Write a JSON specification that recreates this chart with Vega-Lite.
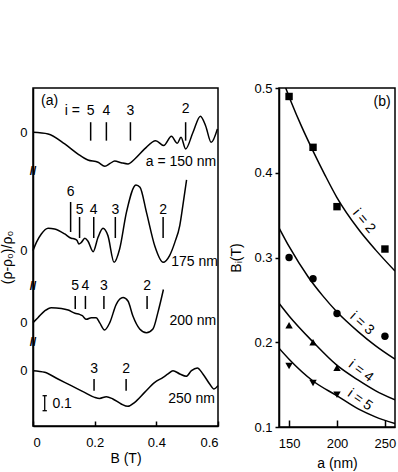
{
  "$schema": "https://vega.github.io/schema/vega-lite/v6.json",
  "padding": {"left": 0, "top": 81, "right": 0, "bottom": 0},
  "background": "white",
  "spacing": 61,
  "bounds": "flush",
  "config": {
    "font": "Liberation Sans",
    "view": {"stroke": "black", "strokeWidth": 1.5},
    "axis": {"labelFont": "Liberation Sans", "titleFont": "Liberation Sans", "labelFontSize": 13, "titleFontSize": 14, "titleFontWeight": "normal", "labelColor": "black", "titleColor": "black", "domainColor": "black", "domainWidth": 1.5, "tickColor": "black", "tickWidth": 1.5, "grid": false},
    "text": {"font": "Liberation Sans", "fontSize": 14, "color": "black"}
  },
  "datasets": {
    "curves": [
      {"s": "150", "B": 0, "y": 1.958}, {"s": "150", "B": 0.049, "y": 1.947}, {"s": "150", "B": 0.103, "y": 1.88}, {"s": "150", "B": 0.146, "y": 1.813}, {"s": "150", "B": 0.178, "y": 1.773}, {"s": "150", "B": 0.211, "y": 1.758}, {"s": "150", "B": 0.233, "y": 1.731}, {"s": "150", "B": 0.25, "y": 1.75}, {"s": "150", "B": 0.265, "y": 1.766}, {"s": "150", "B": 0.286, "y": 1.755}, {"s": "150", "B": 0.308, "y": 1.747}, {"s": "150", "B": 0.33, "y": 1.78}, {"s": "150", "B": 0.362, "y": 1.847}, {"s": "150", "B": 0.398, "y": 1.902}, {"s": "150", "B": 0.424, "y": 1.869}, {"s": "150", "B": 0.449, "y": 1.931}, {"s": "150", "B": 0.468, "y": 1.885}, {"s": "150", "B": 0.48, "y": 1.925}, {"s": "150", "B": 0.495, "y": 1.847}, {"s": "150", "B": 0.519, "y": 1.958}, {"s": "150", "B": 0.543, "y": 2.065}, {"s": "150", "B": 0.56, "y": 2.0}, {"s": "150", "B": 0.578, "y": 1.891}, {"s": "150", "B": 0.598, "y": 1.98},
      {"s": "175", "B": 0, "y": 1.169}, {"s": "175", "B": 0.011, "y": 1.224}, {"s": "175", "B": 0.027, "y": 1.28}, {"s": "175", "B": 0.049, "y": 1.318}, {"s": "175", "B": 0.07, "y": 1.313}, {"s": "175", "B": 0.103, "y": 1.28}, {"s": "175", "B": 0.124, "y": 1.251}, {"s": "175", "B": 0.135, "y": 1.247}, {"s": "175", "B": 0.143, "y": 1.236}, {"s": "175", "B": 0.149, "y": 1.213}, {"s": "175", "B": 0.157, "y": 1.224}, {"s": "175", "B": 0.168, "y": 1.251}, {"s": "175", "B": 0.178, "y": 1.233}, {"s": "175", "B": 0.195, "y": 1.162}, {"s": "175", "B": 0.211, "y": 1.258}, {"s": "175", "B": 0.227, "y": 1.318}, {"s": "175", "B": 0.243, "y": 1.269}, {"s": "175", "B": 0.263, "y": 1.091}, {"s": "175", "B": 0.281, "y": 1.18}, {"s": "175", "B": 0.303, "y": 1.424}, {"s": "175", "B": 0.334, "y": 1.607}, {"s": "175", "B": 0.347, "y": 1.591}, {"s": "175", "B": 0.368, "y": 1.424}, {"s": "175", "B": 0.395, "y": 1.2}, {"s": "175", "B": 0.422, "y": 1.091}, {"s": "175", "B": 0.443, "y": 1.136}, {"s": "175", "B": 0.46, "y": 1.224}, {"s": "175", "B": 0.476, "y": 1.336}, {"s": "175", "B": 0.486, "y": 1.469}, {"s": "175", "B": 0.498, "y": 1.64},
      {"s": "200", "B": 0, "y": 0.689}, {"s": "200", "B": 0.016, "y": 0.722}, {"s": "200", "B": 0.038, "y": 0.767}, {"s": "200", "B": 0.059, "y": 0.789}, {"s": "200", "B": 0.092, "y": 0.784}, {"s": "200", "B": 0.114, "y": 0.773}, {"s": "200", "B": 0.136, "y": 0.751}, {"s": "200", "B": 0.151, "y": 0.744}, {"s": "200", "B": 0.16, "y": 0.735}, {"s": "200", "B": 0.173, "y": 0.711}, {"s": "200", "B": 0.189, "y": 0.722}, {"s": "200", "B": 0.205, "y": 0.722}, {"s": "200", "B": 0.216, "y": 0.689}, {"s": "200", "B": 0.232, "y": 0.64}, {"s": "200", "B": 0.249, "y": 0.689}, {"s": "200", "B": 0.27, "y": 0.811}, {"s": "200", "B": 0.292, "y": 0.856}, {"s": "200", "B": 0.308, "y": 0.833}, {"s": "200", "B": 0.324, "y": 0.733}, {"s": "200", "B": 0.346, "y": 0.647}, {"s": "200", "B": 0.368, "y": 0.622}, {"s": "200", "B": 0.389, "y": 0.647}, {"s": "200", "B": 0.405, "y": 0.756}, {"s": "200", "B": 0.423, "y": 0.91},
      {"s": "250", "B": 0, "y": 0.369}, {"s": "250", "B": 0.038, "y": 0.358}, {"s": "250", "B": 0.081, "y": 0.313}, {"s": "250", "B": 0.124, "y": 0.269}, {"s": "250", "B": 0.167, "y": 0.224}, {"s": "250", "B": 0.2, "y": 0.191}, {"s": "250", "B": 0.216, "y": 0.184}, {"s": "250", "B": 0.238, "y": 0.195}, {"s": "250", "B": 0.259, "y": 0.18}, {"s": "250", "B": 0.286, "y": 0.147}, {"s": "250", "B": 0.308, "y": 0.131}, {"s": "250", "B": 0.33, "y": 0.158}, {"s": "250", "B": 0.362, "y": 0.224}, {"s": "250", "B": 0.395, "y": 0.291}, {"s": "250", "B": 0.422, "y": 0.324}, {"s": "250", "B": 0.438, "y": 0.347}, {"s": "250", "B": 0.454, "y": 0.369}, {"s": "250", "B": 0.476, "y": 0.347}, {"s": "250", "B": 0.497, "y": 0.331}, {"s": "250", "B": 0.514, "y": 0.369}, {"s": "250", "B": 0.533, "y": 0.387}, {"s": "250", "B": 0.551, "y": 0.347}, {"s": "250", "B": 0.573, "y": 0.28}, {"s": "250", "B": 0.587, "y": 0.247}, {"s": "250", "B": 0.6, "y": 0.269}
    ],
    "ticks": [
      {"B": 0.187, "y1": 1.902, "y2": 2.025}, {"B": 0.238, "y1": 1.902, "y2": 2.025}, {"B": 0.316, "y1": 1.902, "y2": 2.025}, {"B": 0.495, "y1": 1.902, "y2": 2.025},
      {"B": 0.122, "y1": 1.293, "y2": 1.493}, {"B": 0.151, "y1": 1.253, "y2": 1.393}, {"B": 0.197, "y1": 1.253, "y2": 1.393}, {"B": 0.267, "y1": 1.253, "y2": 1.393}, {"B": 0.422, "y1": 1.253, "y2": 1.393},
      {"B": 0.137, "y1": 0.78, "y2": 0.867}, {"B": 0.17, "y1": 0.78, "y2": 0.867}, {"B": 0.23, "y1": 0.78, "y2": 0.867}, {"B": 0.37, "y1": 0.78, "y2": 0.867},
      {"B": 0.198, "y1": 0.235, "y2": 0.313}, {"B": 0.302, "y1": 0.235, "y2": 0.313}
    ],
    "digits": [
      {"B": 0.187, "y": 2.1, "t": "5"}, {"B": 0.238, "y": 2.1, "t": "4"}, {"B": 0.316, "y": 2.1, "t": "3"}, {"B": 0.495, "y": 2.11, "t": "2"},
      {"B": 0.122, "y": 1.56, "t": "6"}, {"B": 0.151, "y": 1.443, "t": "5"}, {"B": 0.197, "y": 1.443, "t": "4"}, {"B": 0.267, "y": 1.443, "t": "3"}, {"B": 0.422, "y": 1.443, "t": "2"},
      {"B": 0.137, "y": 0.933, "t": "5"}, {"B": 0.17, "y": 0.933, "t": "4"}, {"B": 0.23, "y": 0.933, "t": "3"}, {"B": 0.37, "y": 0.933, "t": "2"},
      {"B": 0.198, "y": 0.38, "t": "3"}, {"B": 0.302, "y": 0.38, "t": "2"}
    ],
    "names": [
      {"B": 0.594, "y": 1.76, "t": "a = 150 nm"}, {"B": 0.6, "y": 1.093, "t": "175 nm"}, {"B": 0.594, "y": 0.7, "t": "200 nm"}, {"B": 0.59, "y": 0.18, "t": "250 nm"}
    ],
    "breaks": [{"B": 0, "y": 1.7}, {"B": 0, "y": 0.933}, {"B": 0, "y": 0.56}],
    "points": [
      {"a": 150, "Bi": 0.49, "i": 2}, {"a": 175, "Bi": 0.43, "i": 2}, {"a": 200, "Bi": 0.36, "i": 2}, {"a": 250, "Bi": 0.31, "i": 2},
      {"a": 150, "Bi": 0.3, "i": 3}, {"a": 175, "Bi": 0.275, "i": 3}, {"a": 200, "Bi": 0.234, "i": 3}, {"a": 250, "Bi": 0.207, "i": 3},
      {"a": 150, "Bi": 0.22, "i": 4}, {"a": 175, "Bi": 0.2, "i": 4}, {"a": 200, "Bi": 0.17, "i": 4},
      {"a": 150, "Bi": 0.172, "i": 5}, {"a": 175, "Bi": 0.152, "i": 5}, {"a": 200, "Bi": 0.138, "i": 5}
    ],
    "fits": [
      {"a": 146.5, "Bi": 0.5, "i": 2}, {"a": 152.4, "Bi": 0.483, "i": 2}, {"a": 162.9, "Bi": 0.455, "i": 2}, {"a": 175.3, "Bi": 0.425, "i": 2}, {"a": 187.6, "Bi": 0.397, "i": 2}, {"a": 199.8, "Bi": 0.371, "i": 2}, {"a": 222.6, "Bi": 0.333, "i": 2}, {"a": 240.2, "Bi": 0.309, "i": 2}, {"a": 260.5, "Bi": 0.284, "i": 2},
      {"a": 139.5, "Bi": 0.335, "i": 3}, {"a": 150, "Bi": 0.313, "i": 3}, {"a": 170, "Bi": 0.277, "i": 3}, {"a": 185, "Bi": 0.255, "i": 3}, {"a": 199.8, "Bi": 0.236, "i": 3}, {"a": 222.6, "Bi": 0.212, "i": 3}, {"a": 240, "Bi": 0.196, "i": 3}, {"a": 260.5, "Bi": 0.18, "i": 3},
      {"a": 139.5, "Bi": 0.246, "i": 4}, {"a": 150, "Bi": 0.231, "i": 4}, {"a": 175.3, "Bi": 0.2, "i": 4}, {"a": 199.8, "Bi": 0.173, "i": 4}, {"a": 222.6, "Bi": 0.155, "i": 4}, {"a": 240, "Bi": 0.143, "i": 4}, {"a": 260.5, "Bi": 0.132, "i": 4},
      {"a": 139.5, "Bi": 0.193, "i": 5}, {"a": 150, "Bi": 0.18, "i": 5}, {"a": 175.3, "Bi": 0.154, "i": 5}, {"a": 199.8, "Bi": 0.137, "i": 5}, {"a": 222.6, "Bi": 0.121, "i": 5}, {"a": 240, "Bi": 0.112, "i": 5}, {"a": 260.5, "Bi": 0.104, "i": 5}
    ],
    "flabels": [
      {"a": 228, "Bi": 0.343, "t": "i = 2", "ang": 50},
      {"a": 226, "Bi": 0.222, "t": "i = 3", "ang": 42},
      {"a": 225, "Bi": 0.166, "t": "i = 4", "ang": 37},
      {"a": 224, "Bi": 0.132, "t": "i = 5", "ang": 35}
    ]
  },
  "hconcat": [
    {
      "width": 185,
      "height": 338,
      "layer": [
        {
          "data": {"name": "curves"},
          "mark": {"type": "line", "color": "black", "strokeWidth": 1.5, "interpolate": "monotone"},
          "encoding": {
            "x": {"field": "B", "type": "quantitative", "scale": {"domain": [0, 0.6], "nice": false},
              "axis": {"title": "B (T)", "values": [0, 0.1, 0.2, 0.3, 0.4, 0.5, 0.6], "format": ".1~f", "labelExpr": "round(datum.value*10)%2==0 ? datum.label : ''", "tickSize": -5, "labelPadding": 15, "titlePadding": 2}},
            "y": {"field": "y", "type": "quantitative", "scale": {"domain": [0, 2.253], "nice": false, "zero": false},
              "axis": {"title": "(ρ-ρ₀)/ρ₀", "values": [0.368, 0.69, 1.17, 1.958], "labelExpr": "'0'", "ticks": false, "labelPadding": 6, "titlePadding": 5}},
            "detail": {"field": "s", "type": "nominal"}
          }
        },
        {
          "data": {"name": "ticks"},
          "mark": {"type": "rule", "color": "black", "strokeWidth": 1.5},
          "encoding": {
            "x": {"field": "B", "type": "quantitative"},
            "y": {"field": "y1", "type": "quantitative"},
            "y2": {"field": "y2"}
          }
        },
        {
          "data": {"name": "digits"},
          "mark": {"type": "text", "fontSize": 14, "baseline": "middle", "align": "center", "color": "black"},
          "encoding": {
            "x": {"field": "B", "type": "quantitative"},
            "y": {"field": "y", "type": "quantitative"},
            "text": {"field": "t"}
          }
        },
        {
          "data": {"name": "names"},
          "mark": {"type": "text", "fontSize": 14, "baseline": "middle", "align": "right", "color": "black"},
          "encoding": {
            "x": {"field": "B", "type": "quantitative"},
            "y": {"field": "y", "type": "quantitative"},
            "text": {"field": "t"}
          }
        },
        {
          "data": {"values": [{"B": 0.152, "y": 2.1, "t": "i ="}]},
          "mark": {"type": "text", "fontSize": 14, "baseline": "middle", "align": "right", "color": "black"},
          "encoding": {
            "x": {"field": "B", "type": "quantitative"},
            "y": {"field": "y", "type": "quantitative"},
            "text": {"field": "t"}
          }
        },
        {
          "data": {"values": [{"B": 0.026, "y": 2.167, "t": "(a)"}, {"B": 0.063, "y": 0.147, "t": "0.1"}]},
          "mark": {"type": "text", "fontSize": 14, "baseline": "middle", "align": "left", "color": "black"},
          "encoding": {
            "x": {"field": "B", "type": "quantitative"},
            "y": {"field": "y", "type": "quantitative"},
            "text": {"field": "t"}
          }
        },
        {
          "data": {"values": [{"B": 0.038, "y1": 0.102, "y2": 0.202}]},
          "mark": {"type": "rule", "color": "black", "strokeWidth": 1.3},
          "encoding": {
            "x": {"field": "B", "type": "quantitative"},
            "y": {"field": "y1", "type": "quantitative"},
            "y2": {"field": "y2"}
          }
        },
        {
          "data": {"values": [{"x1": 0.031, "x2": 0.045, "y": 0.102}, {"x1": 0.031, "x2": 0.045, "y": 0.202}]},
          "mark": {"type": "rule", "color": "black", "strokeWidth": 1.3},
          "encoding": {
            "x": {"field": "x1", "type": "quantitative"},
            "x2": {"field": "x2"},
            "y": {"field": "y", "type": "quantitative"}
          }
        },
        {
          "data": {"name": "breaks"},
          "mark": {"type": "text", "fontSize": 12, "fontWeight": "bold", "baseline": "middle", "align": "center", "text": "//", "color": "black"},
          "encoding": {
            "x": {"field": "B", "type": "quantitative"},
            "y": {"field": "y", "type": "quantitative"}
          }
        }
      ]
    },
    {
      "width": 116,
      "height": 339,
      "layer": [
        {
          "data": {"name": "fits"},
          "mark": {"type": "line", "color": "black", "strokeWidth": 1.5, "interpolate": "monotone", "clip": true},
          "encoding": {
            "x": {"field": "a", "type": "quantitative", "scale": {"domain": [139.5, 260.5], "nice": false, "zero": false},
              "axis": {"title": "a (nm)", "values": [150, 200, 250], "tickSize": -7, "labelPadding": 17, "titlePadding": 6}},
            "y": {"field": "Bi", "type": "quantitative", "scale": {"domain": [0.1, 0.5], "nice": false, "zero": false},
              "axis": {"title": "Bᵢ(T)", "values": [0.1, 0.2, 0.3, 0.4, 0.5], "format": ".1f", "tickSize": 4, "labelPadding": 3, "titlePadding": 10}},
            "detail": {"field": "i", "type": "nominal"}
          }
        },
        {
          "data": {"name": "points"},
          "mark": {"type": "point", "filled": true, "color": "black", "opacity": 1, "size": 55},
          "encoding": {
            "x": {"field": "a", "type": "quantitative"},
            "y": {"field": "Bi", "type": "quantitative"},
            "shape": {"field": "i", "type": "nominal", "scale": {"domain": [2, 3, 4, 5], "range": ["square", "circle", "triangle-up", "triangle-down"]}, "legend": null}
          }
        },
        {
          "data": {"name": "flabels"},
          "mark": {"type": "text", "fontSize": 14, "baseline": "middle", "align": "center", "color": "black"},
          "encoding": {
            "x": {"field": "a", "type": "quantitative"},
            "y": {"field": "Bi", "type": "quantitative"},
            "text": {"field": "t"},
            "angle": {"field": "ang", "type": "quantitative", "scale": null}
          }
        },
        {
          "data": {"values": [{"a": 256, "Bi": 0.484, "t": "(b)"}]},
          "mark": {"type": "text", "fontSize": 14, "baseline": "middle", "align": "right", "color": "black"},
          "encoding": {
            "x": {"field": "a", "type": "quantitative"},
            "y": {"field": "Bi", "type": "quantitative"},
            "text": {"field": "t"}
          }
        }
      ]
    }
  ]
}
